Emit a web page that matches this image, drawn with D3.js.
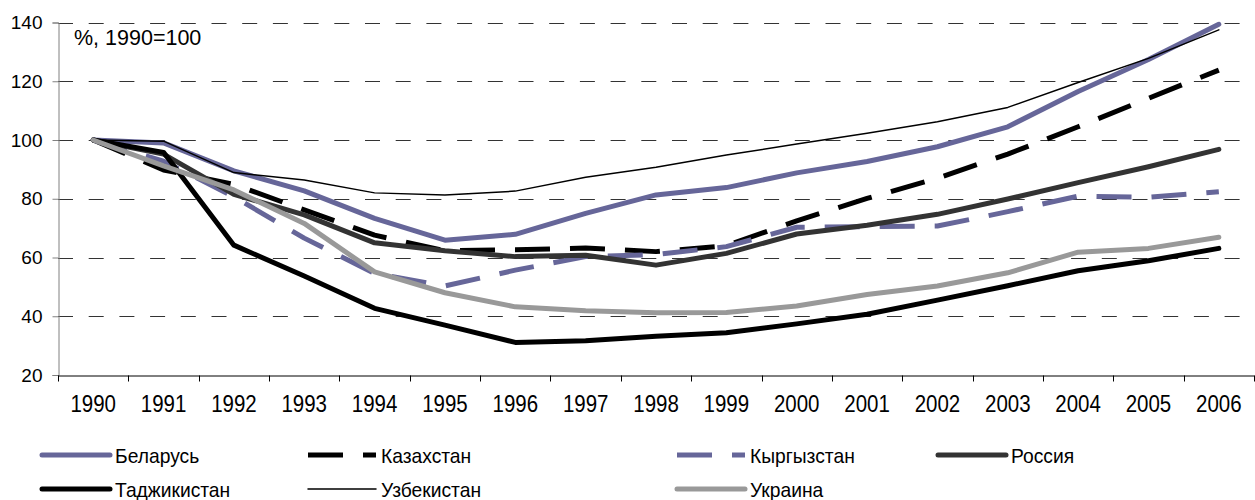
<!DOCTYPE html>
<html>
<head>
<meta charset="utf-8">
<script src="https://cdn.jsdelivr.net/npm/d3@7"></script>
<style>
  html, body { margin: 0; padding: 0; background: #fff; }
  svg { display: block; font-family: "Liberation Sans", Arial, sans-serif; }
</style>
</head>
<body>
<svg id="chart" width="1255" height="500"></svg>
<script>
const years = ["1990","1991","1992","1993","1994","1995","1996","1997","1998","1999","2000","2001","2002","2003","2004","2005","2006"];
const yTicks = [20, 40, 60, 80, 100, 120, 140];
const unitLabel = "%, 1990=100";

const belarus    = [100, 99.0, 89.5, 82.7, 73.3, 65.9, 67.9, 75.0, 81.3, 83.8, 88.8, 92.7, 97.7, 104.5, 116.5, 127.4, 139.4];
const kazakhstan = [100, 89.8, 84.9, 76.2, 67.6, 62.3, 62.6, 63.2, 62.0, 64.0, 72.5, 80.1, 87.0, 95.2, 104.5, 114.2, 123.8];
const kyrgyzstan = [100, 92.8, 80.7, 66.6, 54.6, 50.3, 55.7, 60.3, 61.0, 63.7, 70.3, 70.5, 70.7, 75.6, 80.9, 80.5, 82.4];
const russia     = [100, 95.2, 81.5, 74.5, 65.0, 62.3, 60.3, 60.8, 57.4, 61.4, 68.0, 71.0, 74.7, 79.9, 85.5, 90.9, 96.8];
const tajikistan = [100, 95.8, 64.2, 53.7, 42.7, 37.0, 31.1, 31.7, 33.2, 34.4, 37.4, 40.7, 45.5, 50.4, 55.5, 58.9, 63.1];
const uzbekistan = [100, 99.6, 88.9, 86.4, 82.0, 81.3, 82.6, 87.3, 90.7, 94.9, 98.6, 102.3, 106.2, 111.1, 119.6, 127.8, 137.5];
const ukraine    = [100, 91.2, 83.0, 71.6, 55.1, 48.0, 43.2, 41.9, 41.2, 41.3, 43.5, 47.4, 50.3, 54.8, 61.8, 63.1, 66.9];

const seriesNames = ["Беларусь","Казахстан","Кыргызстан","Россия","Таджикистан","Узбекистан","Украина"];
const seriesValues = [belarus, kazakhstan, kyrgyzstan, russia, tajikistan, uzbekistan, ukraine];

const styles = [
  {color: "#666699", width: 5, dash: null},
  {color: "#000000", width: 5, dash: "35,20"},
  {color: "#666699", width: 5, dash: "35,20"},
  {color: "#333333", width: 5, dash: null},
  {color: "#000000", width: 5, dash: null},
  {color: "#000000", width: 1.5, dash: null},
  {color: "#999999", width: 5, dash: null}
];

const svg = d3.select("#chart");
const plotL = 58, plotR = 1254, plotT = 22.5, plotB = 375;

const x = d3.scaleBand().domain(years).range([plotL, plotR]).padding(0);
const xc = d => x(d) + x.bandwidth() / 2;
const y = d3.scaleLinear().domain([20, 140]).range([plotB, plotT]);

// gridlines
svg.append("g").selectAll("line")
  .data(yTicks.filter(t => t > 20))
  .join("line")
  .attr("x1", plotL).attr("x2", plotR)
  .attr("y1", d => Math.round(y(d)) + 0.5).attr("y2", d => Math.round(y(d)) + 0.5)
  .attr("stroke", "#333").attr("stroke-width", 1)
  .attr("stroke-dasharray", "15,15.7");

// y axis
const yAxis = svg.append("g")
  .attr("transform", `translate(${plotL + 0.5},0)`)
  .call(d3.axisLeft(y).tickValues(yTicks).tickSize(6).tickPadding(10));
yAxis.select(".domain").attr("stroke", "#808080").attr("stroke-width", 1);
yAxis.selectAll(".tick line").attr("stroke", "#808080");
yAxis.selectAll(".tick text")
  .attr("font-size", 19).attr("fill", "#000")
  .attr("font-family", "Liberation Sans, Arial, sans-serif");

// x axis
const xAxis = svg.append("g")
  .attr("transform", `translate(0,${plotB + 0.5})`)
  .call(d3.axisBottom(x).tickSize(0).tickSizeOuter(0).tickPadding(20));
xAxis.select(".domain").attr("stroke", "#000").attr("stroke-width", 1);
xAxis.selectAll(".tick text")
  .attr("font-size", 23).attr("fill", "#000")
  .attr("font-family", "Liberation Sans, Arial, sans-serif")
  .attr("transform", "scale(0.89,1)");
// boundary ticks
xAxis.append("g").selectAll("line")
  .data(d3.range(years.length + 1))
  .join("line")
  .attr("x1", i => Math.round(plotL + i * x.bandwidth()) + 0.5)
  .attr("x2", i => Math.round(plotL + i * x.bandwidth()) + 0.5)
  .attr("y1", 0).attr("y2", 6)
  .attr("stroke", "#000");

// unit label
svg.append("text")
  .attr("x", 74).attr("y", 45)
  .attr("font-size", 21.5)
  .text(unitLabel);

// lines
const line = d3.line().x((d, i) => xc(years[i])).y(d => y(d));
svg.append("g").selectAll("path")
  .data(seriesValues)
  .join("path")
  .attr("d", d => line(d))
  .attr("fill", "none")
  .attr("stroke", (d, i) => styles[i].color)
  .attr("stroke-width", (d, i) => styles[i].width)
  .attr("stroke-dasharray", (d, i) => styles[i].dash)
  .attr("stroke-linejoin", "round")
  .attr("stroke-linecap", (d, i) => styles[i].dash ? "butt" : "round");

// legend
const colX = [42, 308, 677, 938];
const rowY = [455, 489];
const legend = svg.append("g").selectAll("g")
  .data(seriesNames)
  .join("g")
  .attr("transform", (d, i) => `translate(${colX[i % 4]},${rowY[Math.floor(i / 4)]})`);
legend.append("line")
  .attr("x1", 0).attr("x2", 68).attr("y1", 0).attr("y2", 0)
  .attr("stroke", (d, i) => styles[i].color)
  .attr("stroke-width", (d, i) => styles[i].width)
  .attr("stroke-dasharray", (d, i) => styles[i].dash)
  .attr("stroke-linecap", (d, i) => styles[i].dash ? "butt" : "round");
legend.append("text")
  .attr("x", 0).attr("y", 8)
  .attr("font-size", 20.5)
  .attr("transform", "translate(73,0) scale(0.94,1)")
  .text(d => d);
</script>
</body>
</html>
